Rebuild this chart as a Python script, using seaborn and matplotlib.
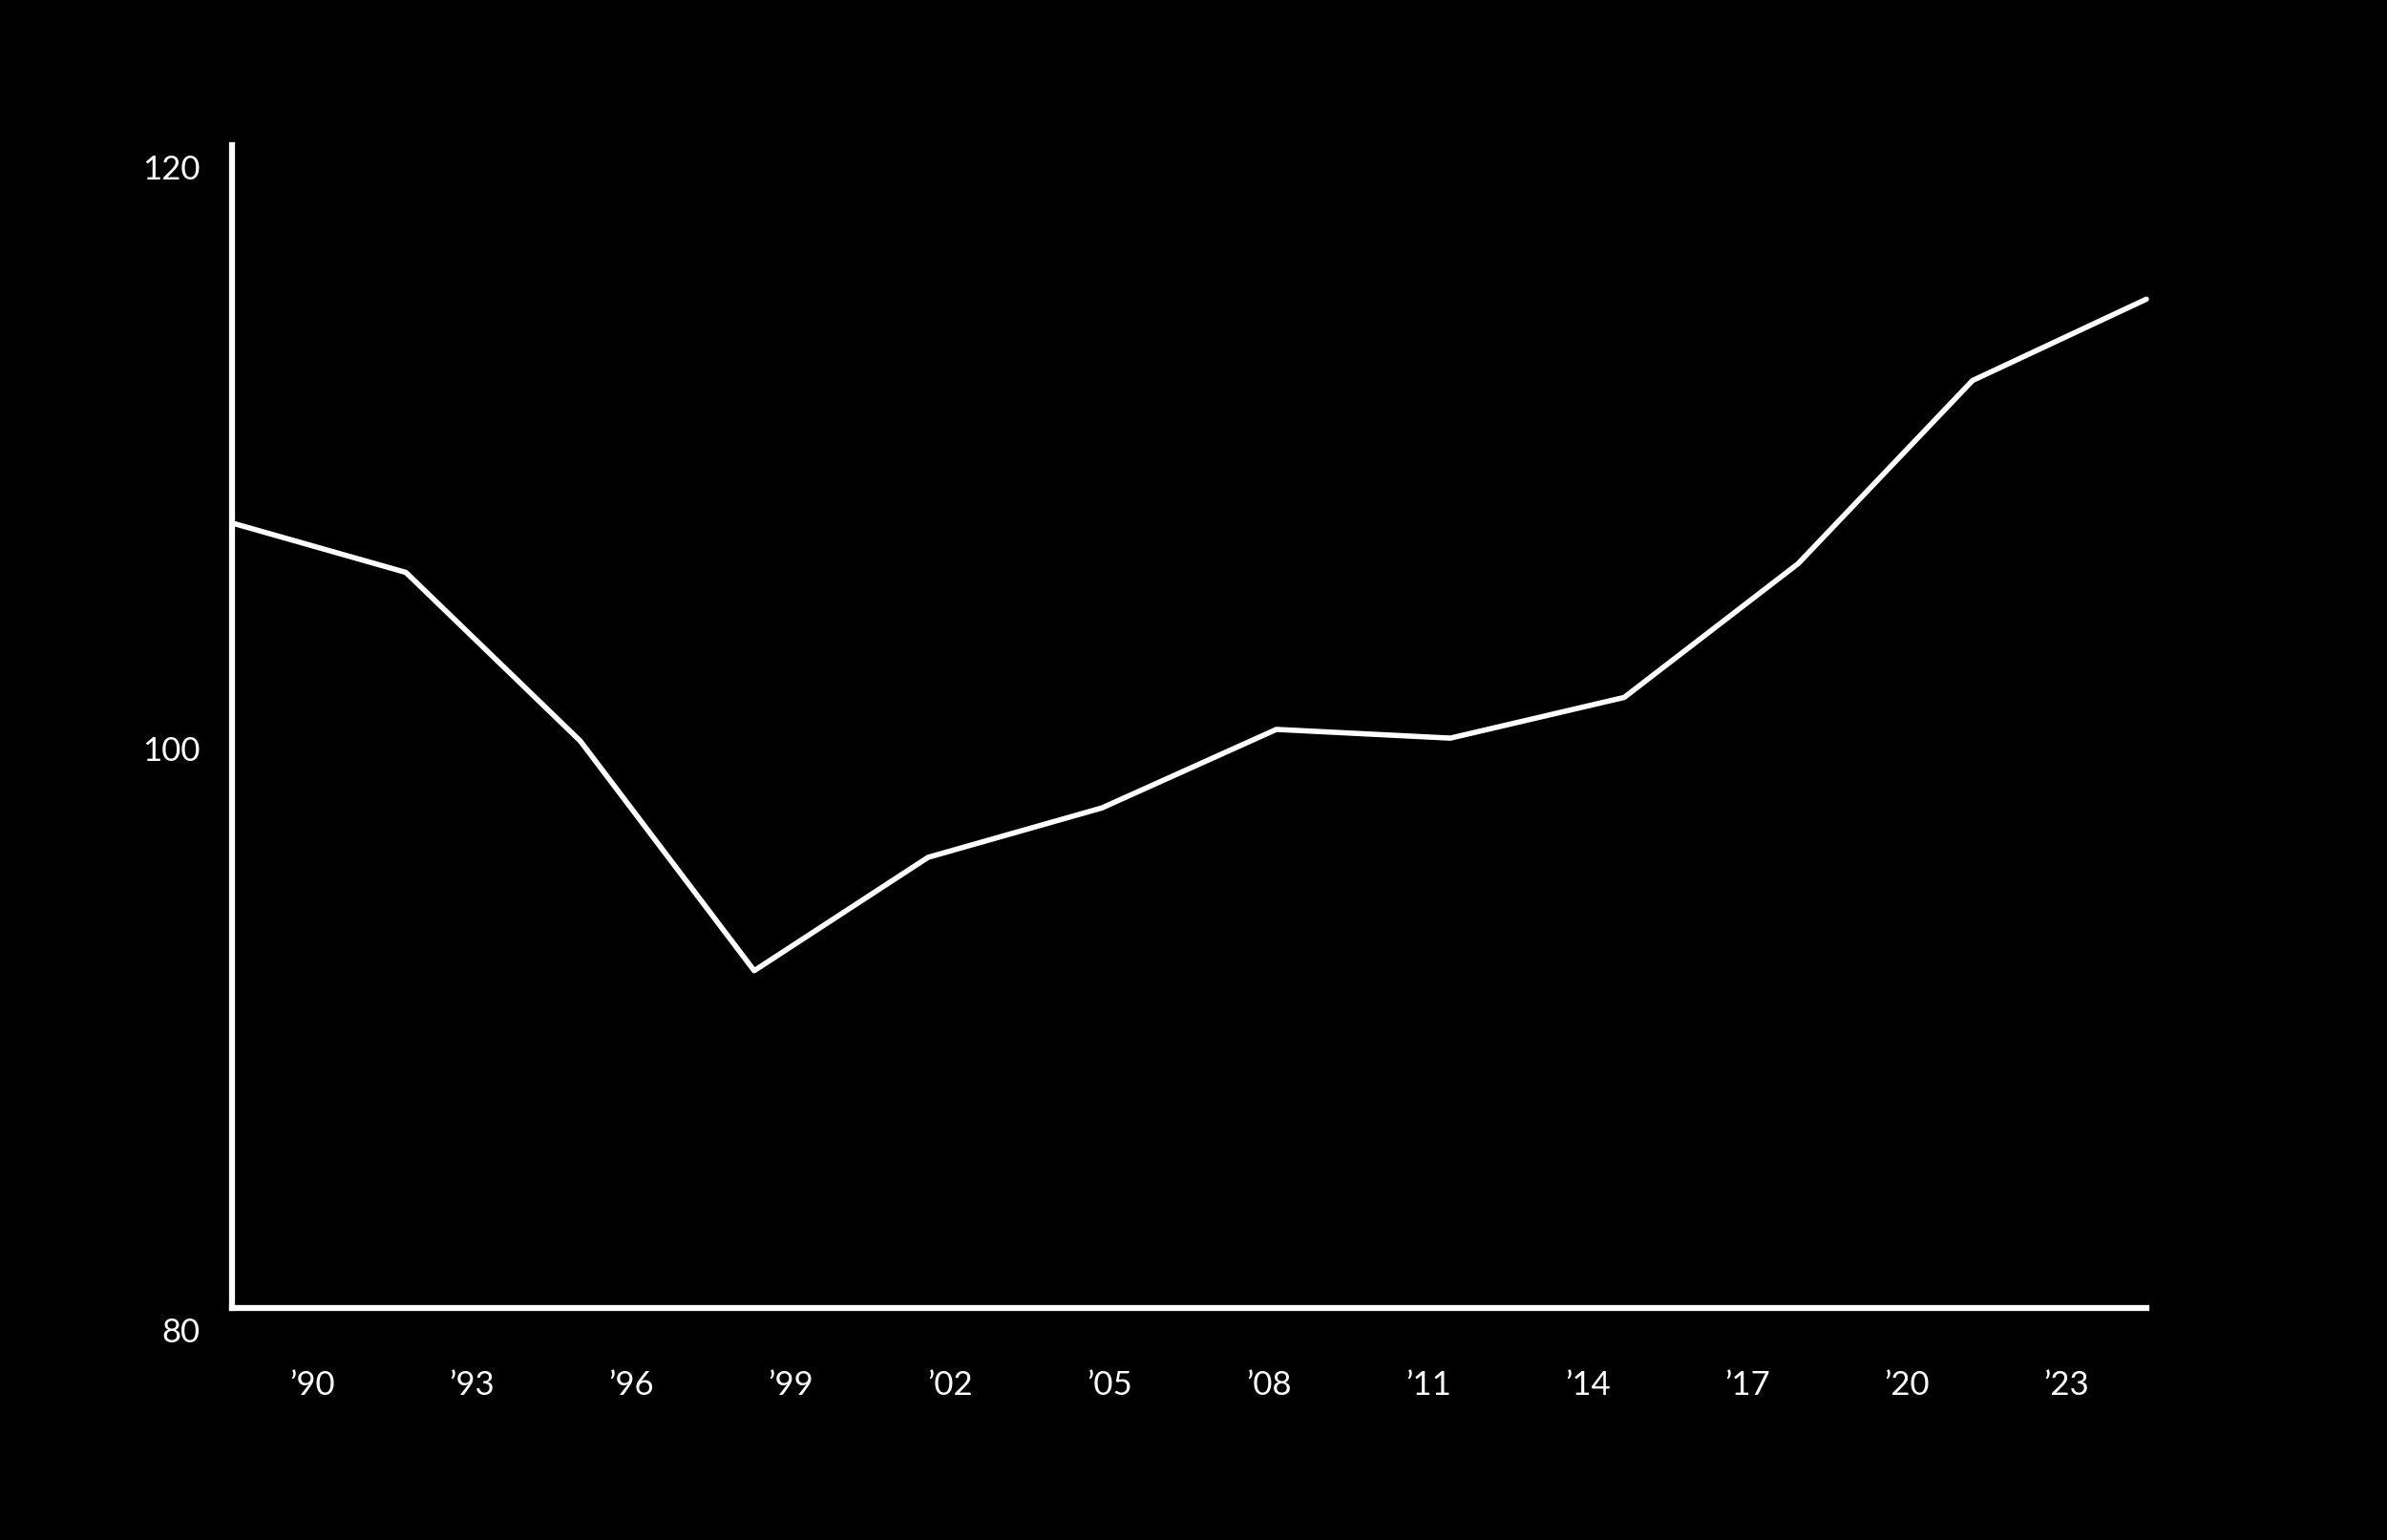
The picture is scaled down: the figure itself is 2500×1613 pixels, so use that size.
import matplotlib
matplotlib.use("Agg")
import matplotlib.pyplot as plt
import matplotlib.transforms as mtransforms
import seaborn as sns

# Valeurs
years = [1988.5, 1991.77, 1995.05, 1998.32, 2001.59, 2004.86,
         2008.14, 2011.41, 2014.68, 2017.95, 2021.23, 2024.5]
values = [107.0, 105.3, 99.5, 91.6, 95.5, 97.2,
          99.9, 99.6, 101.0, 105.6, 111.9, 114.7]

x_ticks = [1990, 1993, 1996, 1999, 2002, 2005, 2008, 2011, 2014, 2017, 2020, 2023]
x_tick_labels = ["’90", "’93", "’96", "’99", "’02", "’05", "’08", "’11", "’14", "’17", "’20", "’23"]
y_ticks = [80, 100, 120]
y_tick_labels = ["80", "100", "120"]

sns.set_theme(style="white")
plt.rcParams["font.family"] = ["Lato", "DejaVu Sans"]

fig = plt.figure(figsize=(25, 16.13), dpi=100, facecolor="black")
ax = fig.add_axes([0.0972, 0.1507, 0.8020, 0.7551])
ax.set_facecolor("black")

sns.lineplot(x=years, y=values, ax=ax, color="white", linewidth=4.0,
             solid_capstyle="round", solid_joinstyle="round", clip_on=False)

ax.set_xlim(1988.5, 2024.5)
ax.set_ylim(80, 120)
ax.set_xticks(x_ticks)
ax.set_xticklabels(x_tick_labels)
ax.set_yticks(y_ticks)
ax.set_yticklabels(y_tick_labels)
ax.set_xlabel("")
ax.set_ylabel("")

for side in ["top", "right"]:
    ax.spines[side].set_visible(False)
for side in ["left", "bottom"]:
    ax.spines[side].set_color("white")
    ax.spines[side].set_linewidth(4.5)

ax.tick_params(axis="both", length=0, colors="white", labelcolor="white", labelsize=25)
ax.tick_params(axis="x", pad=47)
ax.tick_params(axis="y", pad=24)

# les étiquettes de l'axe y sont décalées vers le bas
offset = mtransforms.ScaledTranslation(0, -0.23, fig.dpi_scale_trans)
for lbl in ax.get_yticklabels():
    lbl.set_transform(lbl.get_transform() + offset)

fig.savefig("out.png", dpi=100, facecolor="black")
plt.close(fig)
